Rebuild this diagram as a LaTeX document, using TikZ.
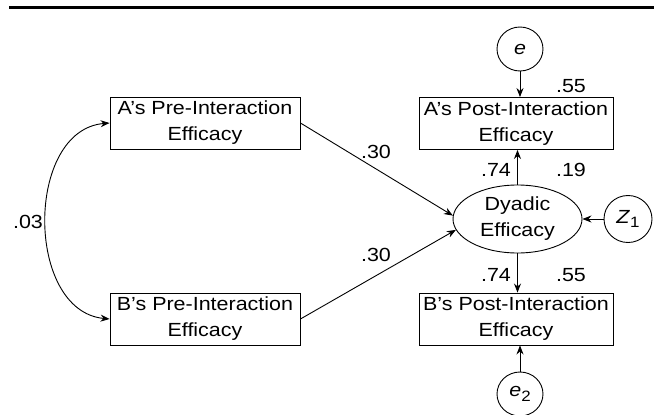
\documentclass[tikz,border=0pt]{standalone}
\usepackage{fontspec}
\setmainfont{Liberation Sans}[FakeStretch=1.13]
\usetikzlibrary{arrows.meta,shapes.geometric}
\begin{document}
\begin{tikzpicture}[x=1pt,y=-1pt,
  every node/.style={font=\fontsize{19}{26}\selectfont},
  varbox/.style={draw,line width=0.9pt,align=center,inner sep=0pt,minimum height=52pt},
  latent/.style={draw,ellipse,line width=0.9pt,align=center,inner sep=0pt},
  errnode/.style={draw,ellipse,line width=0.9pt,inner sep=0pt,minimum width=46pt,minimum height=44pt},
  path/.style={line width=0.9pt,-{Stealth[length=9pt,width=7pt]}},
  coef/.style={inner sep=0pt}]
\useasboundingbox (0,0) rectangle (654,415);
% header rule
\draw[line width=2.2pt] (9,7.5) -- (654,7.5);

% observed variables
\node[varbox,minimum width=190pt] (apre) at (205,123) {A’s Pre-Interaction\\Efficacy};
\node[varbox,minimum width=190pt] (bpre) at (205,319) {B’s Pre-Interaction\\Efficacy};
\node[varbox,minimum width=194pt] (apost) at (516,123.5) {A’s Post-Interaction\\Efficacy};
\node[varbox,minimum width=194pt] (bpost) at (516,319) {B’s Post-Interaction\\Efficacy};

% latent dyadic construct
\node[latent,minimum width=129pt,minimum height=68pt] (dy) at (517.5,219) {Dyadic\\Efficacy};

% disturbances
\node[errnode] (e) at (520,49) {\textit{e}};
\node[errnode] (e2) at (520,394) {\textit{e}\raisebox{-0.45ex}{\fontsize{15}{15}\selectfont 2}};
\node[errnode,minimum width=48pt,minimum height=47pt] (z) at (628,219) {\textit{Z}\raisebox{-0.45ex}{\fontsize{15}{15}\selectfont 1}};

% structural paths
\draw[path] (apre.east) -- (dy.177);
\draw[path] (bpre.east) -- (dy.190);
\draw[path] (dy.north) -- (dy.north |- apost.south);
\draw[path] (dy.south) -- (dy.south |- bpost.north);
\draw[path] (e.south) -- (e.south |- apost.north);
\draw[path] (e2.north) -- (e2.north |- bpost.south);
\draw[path] (z.west) -- (dy.east |- z.west);

% covariance between the pre-interaction measures
\draw[line width=0.9pt,{Stealth[length=9pt,width=7pt]}-{Stealth[length=9pt,width=7pt]}]
  (apre.west) .. controls (25,130) and (25,311) .. (bpre.west);

% coefficients
\node[coef] (c03) at (28,222) {.03};
\node[coef] (c30a) at (376,152) {.30};
\node[coef] (c30b) at (376,255) {.30};
\node[coef] (r55a) at (571,86) {.55};
\node[coef] (c74a) at (496,170) {.74};
\node[coef] (r19) at (571,170) {.19};
\node[coef] (c74b) at (496,275) {.74};
\node[coef] (r55b) at (571,275) {.55};
\end{tikzpicture}
\end{document}
